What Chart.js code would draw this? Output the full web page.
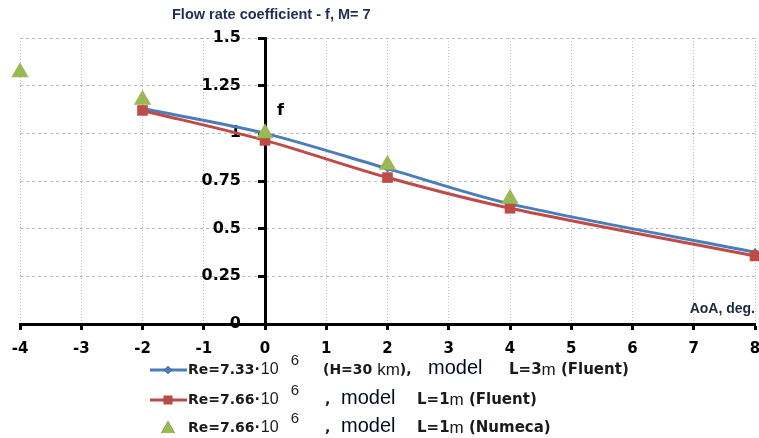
<!DOCTYPE html>
<html>
<head>
<meta charset="utf-8">
<script src="https://cdn.jsdelivr.net/npm/chart.js@4"></script>
<style>
  html, body { margin: 0; padding: 0; background: #fff; overflow: hidden; }
</style>
</head>
<body>
<canvas id="c" width="765" height="438"></canvas>
<script>
// data
const aoaFluent = [-2, 0, 2, 4, 8];
const fBlueL3 = [1.13, 1.0, 0.815, 0.63, 0.377];
const fRedL1 = [1.12, 0.963, 0.768, 0.607, 0.357];
const aoaNumeca = [-4, -2, 0, 2, 4];
const fGreenNumeca = [1.32, 1.176, 1.0, 0.835, 0.657];

const xTicks = { min: -4, max: 8, step: 1 };
const yTicks = { min: 0, max: 1.5, step: 0.25 };

const chartTitle = 'Flow rate coefficient - f, M= 7';
const yName = 'f';
const xName = 'AoA, deg.';

// legend pieces (rich text, drawn by plugin)
const legendRe = ['Re=7.33·', 'Re=7.66·', 'Re=7.66·'];
const legendPow = ['10', '10', '10'];
const legendExp = ['6', '6', '6'];
const legendCase = ['(H=30 km), ', ', ', ', '];
const legendWord = ['model', 'model', 'model'];
const legendTail = ['L=3m (Fluent)', 'L=1m (Fluent)', 'L=1m (Numeca)'];

const colors = ['#4a7ebb', '#be4b48', '#98b954'];

const BOLD = 'bold 14px "DejaVu Sans"';
const TAIL = 'bold 15px "DejaVu Sans"';
const REG = '16px "Liberation Sans"';

function runs(ctx, x, y, parts) {
    parts.forEach(p => {
        ctx.font = p[1];
        ctx.fillStyle = p[2] || '#1a1a1a';
        ctx.fillText(p[0], x, y + (p[3] || 0));
        x += ctx.measureText(p[0]).width;
    });
    return x;
}

const textPlugin = {
    id: 'texts',
    afterDraw(chart) {
        const ctx = chart.ctx;
        const xs = chart.scales.x, ys = chart.scales.y;
        ctx.save();
        ctx.textBaseline = 'middle';
        ctx.textAlign = 'left';

        // title
        ctx.font = 'bold 14.5px "Liberation Sans"';
        ctx.fillStyle = '#1f2f50';
        ctx.fillText(chartTitle, 172, 15);

        // axis names
        ctx.font = 'bold 16px "DejaVu Sans"';
        ctx.fillStyle = '#000';
        ctx.fillText(yName, xs.getPixelForValue(0) + 12, 111);
        ctx.font = 'bold 14px "Liberation Sans"';
        ctx.fillStyle = '#1a2a40';
        ctx.textAlign = 'right';
        ctx.fillText(xName, xs.right, ys.bottom - 15);
        ctx.textAlign = 'left';

        // legend
        const rowY = [370, 400, 428];
        const col2 = [323, 325, 325];
        const colWord = [428, 341, 341];
        const col3 = [509, 417, 417];
        chart.data.datasets.forEach((ds, i) => {
            const y = rowY[i];
            if (ds.showLine !== false) {
                ctx.strokeStyle = ds.borderColor;
                ctx.lineWidth = 3;
                ctx.beginPath();
                ctx.moveTo(150, y);
                ctx.lineTo(187, y);
                ctx.stroke();
            }
            Chart.helpers.drawPoint(ctx, {
                pointStyle: ds.pointStyle,
                radius: i === 2 ? 8 : (i === 0 ? 4 : 6),
                borderWidth: 0
            }, 168, y + (i === 2 ? 1 : 0));
            ctx.fillStyle = ds.pointBackgroundColor;
            ctx.fill();

            let x = runs(ctx, 188, y, [[legendRe[i], BOLD]]);
            x = runs(ctx, x + 1, y, [[legendPow[i], REG]]);
            runs(ctx, x + 12, y - 9, [[legendExp[i], '15px "Liberation Sans"']]);

            const cs = legendCase[i].split('km');
            const parts = [[cs[0], BOLD]];
            if (cs.length > 1) {
                parts.push(['km', '17px "Liberation Sans"']);
                parts.push([cs[1], BOLD]);
            }
            runs(ctx, col2[i], y, parts);
            runs(ctx, colWord[i], y, [[legendWord[i], '20px "Liberation Sans"', '#000a20', -2]]);

            const m = legendTail[i].match(/^(L=\d)(m)(.*)$/);
            runs(ctx, col3[i], y, [[m[1], TAIL], [m[2], '17px "Liberation Sans"'], [m[3], TAIL]]);
        });
        ctx.restore();
    }
};

new Chart(document.getElementById('c'), {
    type: 'line',
    data: {
        datasets: [
            {
                label: legendRe[0] + legendPow[0] + '^' + legendExp[0] + ' ' + legendCase[0] + legendWord[0] + ' ' + legendTail[0],
                data: aoaFluent.map((x, i) => ({ x: x, y: fBlueL3[i] })),
                borderColor: colors[0],
                backgroundColor: colors[0],
                pointBackgroundColor: colors[0],
                pointStyle: 'rectRot',
                pointRadius: 4,
                pointBorderWidth: 0,
                borderWidth: 3,
                tension: 0.3,
                clip: false,
                order: 3
            },
            {
                label: legendRe[1] + legendPow[1] + '^' + legendExp[1] + ' ' + legendCase[1] + legendWord[1] + ' ' + legendTail[1],
                data: aoaFluent.map((x, i) => ({ x: x, y: fRedL1[i] })),
                borderColor: colors[1],
                backgroundColor: colors[1],
                pointBackgroundColor: colors[1],
                pointStyle: 'rect',
                pointRadius: 7.5,
                pointBorderWidth: 0,
                borderWidth: 3,
                tension: 0.3,
                clip: false,
                order: 2
            },
            {
                label: legendRe[2] + legendPow[2] + '^' + legendExp[2] + ' ' + legendCase[2] + legendWord[2] + ' ' + legendTail[2],
                data: aoaNumeca.map((x, i) => ({ x: x, y: fGreenNumeca[i] })),
                borderColor: colors[2],
                backgroundColor: colors[2],
                pointBackgroundColor: colors[2],
                pointStyle: 'triangle',
                pointRadius: 10,
                pointBorderWidth: 0,
                showLine: false,
                clip: false,
                order: 1
            }
        ]
    },
    options: {
        responsive: false,
        animation: false,
        layout: { padding: { left: 20, right: 4, top: 38, bottom: 84 } },
        plugins: {
            legend: { display: false },
            title: { display: false },
            tooltip: { enabled: false }
        },
        scales: {
            x: {
                type: 'linear',
                min: xTicks.min,
                max: xTicks.max,
                afterFit: s => { s.paddingLeft = 0; s.paddingRight = 0; s.height = 30; },
                ticks: {
                    stepSize: xTicks.step,
                    padding: 10,
                    color: '#000',
                    font: { family: 'DejaVu Sans', size: 15, weight: 'bold' }
                },
                grid: {
                    color: '#bdbdbd',
                    lineWidth: 1,
                    tickColor: '#000',
                    tickWidth: 3,
                    tickLength: 6
                },
                border: { color: '#000', width: 3, dash: [1, 2] }
            },
            y: {
                type: 'linear',
                position: { x: 0 },
                min: yTicks.min,
                max: yTicks.max,
                afterFit: s => { s.paddingLeft = 0; s.paddingRight = 0; },
                ticks: {
                    stepSize: yTicks.step,
                    color: '#000',
                    font: { family: 'DejaVu Sans', size: 16, weight: 'bold' },
                    // labels sit to the left of the axis line
                    callback: v => String(v) + '\u2003\u2002'
                },
                grid: {
                    color: '#bdbdbd',
                    lineWidth: 1,
                    tickColor: '#000',
                    tickWidth: 3,
                    tickLength: 6
                },
                border: { color: '#000', width: 3, dash: [3, 3] }
            }
        }
    },
    plugins: [textPlugin]
});
</script>
</body>
</html>
